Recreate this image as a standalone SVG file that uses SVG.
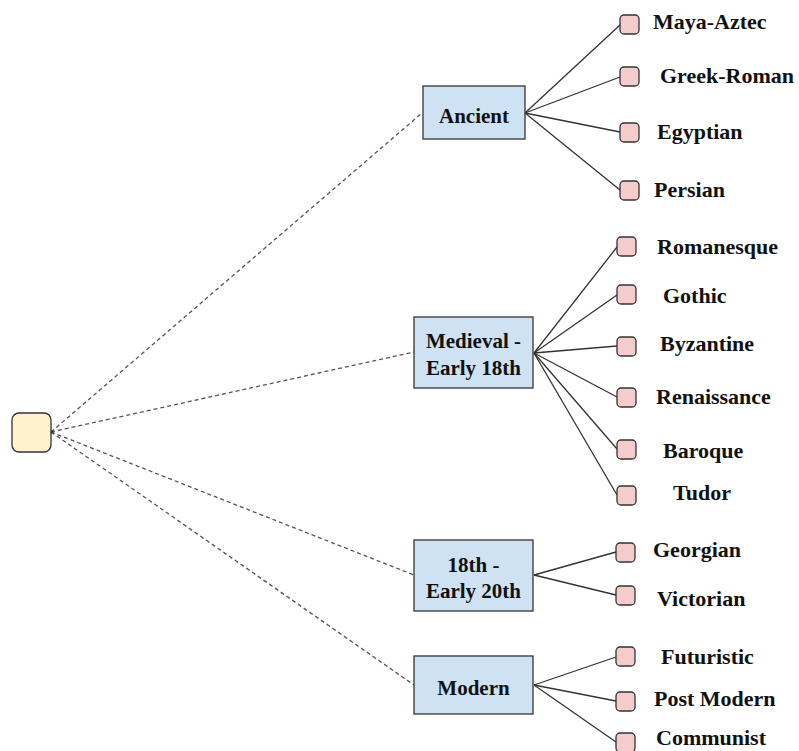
<svg xmlns="http://www.w3.org/2000/svg" width="799" height="751" viewBox="0 0 799 751">
<style>
.bg{fill:#ffffff}
.root{fill:#fff2cc;stroke:#333333;stroke-width:1.3}
.cat{fill:#cfe2f3;stroke:#333333;stroke-width:1.3}
.leaf{fill:#f4cccc;stroke:#333333;stroke-width:1.3}
.dash{fill:none;stroke:#555555;stroke-width:1.3;stroke-dasharray:4,3}
.solid{fill:none;stroke:#333333;stroke-width:1.3}
.t{font-family:"Liberation Serif","Times New Roman",serif;font-weight:bold;fill:#111111}
.ct{font-size:21px;text-anchor:middle}
.lt{font-size:22px}
</style>
<rect class="bg" x="0" y="0" width="799" height="751"/>
<g id="connectors">
<line class="dash" x1="51" y1="432" x2="422" y2="113"/>
<line class="dash" x1="51" y1="432" x2="414" y2="352"/>
<line class="dash" x1="51" y1="432" x2="414" y2="575"/>
<line class="dash" x1="51" y1="432" x2="414" y2="685"/>
<circle cx="51.5" cy="432" r="1.8" fill="#333333"/>
<line class="solid" x1="525" y1="113" x2="620" y2="25"/>
<line class="solid" x1="525" y1="113" x2="620" y2="77"/>
<line class="solid" x1="525" y1="113" x2="620" y2="132"/>
<line class="solid" x1="525" y1="113" x2="620" y2="190"/>
<line class="solid" x1="534" y1="353" x2="617" y2="247"/>
<line class="solid" x1="534" y1="353" x2="617" y2="295"/>
<line class="solid" x1="534" y1="353" x2="617" y2="346"/>
<line class="solid" x1="534" y1="353" x2="617" y2="397"/>
<line class="solid" x1="534" y1="353" x2="617" y2="449"/>
<line class="solid" x1="534" y1="353" x2="617" y2="495"/>
<line class="solid" x1="534" y1="575" x2="616" y2="552"/>
<line class="solid" x1="534" y1="575" x2="616" y2="595"/>
<line class="solid" x1="534" y1="685" x2="616" y2="657"/>
<line class="solid" x1="534" y1="685" x2="616" y2="701"/>
<line class="solid" x1="534" y1="685" x2="616" y2="742"/>
</g>
<g id="root"><rect class="root" x="12" y="413" width="39" height="39" rx="7"/></g>
<g id="ancient"><rect class="cat" x="423" y="86" width="102" height="53"/><text class="t ct" x="474" y="123">Ancient</text></g>
<g id="medieval"><rect class="cat" x="414" y="317" width="119" height="71"/><text class="t ct" x="473.5" y="348">Medieval -</text><text class="t ct" x="473.5" y="375">Early 18th</text></g>
<g id="c18th"><rect class="cat" x="414" y="540" width="119" height="71"/><text class="t ct" x="473.5" y="572">18th -</text><text class="t ct" x="473.5" y="598">Early 20th</text></g>
<g id="modern"><rect class="cat" x="414" y="656" width="119" height="58"/><text class="t ct" x="473.5" y="695">Modern</text></g>
<g id="maya"><rect class="leaf" x="620" y="15" width="19" height="19" rx="4"/><text class="t lt" x="653" y="29">Maya-Aztec</text></g>
<g id="greek"><rect class="leaf" x="620" y="67" width="19" height="19" rx="4"/><text class="t lt" x="660" y="83">Greek-Roman</text></g>
<g id="egyptian"><rect class="leaf" x="620" y="123" width="19" height="19" rx="4"/><text class="t lt" x="657" y="139">Egyptian</text></g>
<g id="persian"><rect class="leaf" x="620" y="181" width="19" height="19" rx="4"/><text class="t lt" x="654" y="197">Persian</text></g>
<g id="romanesque"><rect class="leaf" x="617" y="237" width="19" height="19" rx="4"/><text class="t lt" x="657" y="254">Romanesque</text></g>
<g id="gothic"><rect class="leaf" x="617" y="285" width="19" height="19" rx="4"/><text class="t lt" x="663" y="303">Gothic</text></g>
<g id="byzantine"><rect class="leaf" x="617" y="337" width="19" height="19" rx="4"/><text class="t lt" x="660" y="351">Byzantine</text></g>
<g id="renaissance"><rect class="leaf" x="617" y="388" width="19" height="19" rx="4"/><text class="t lt" x="656" y="404">Renaissance</text></g>
<g id="baroque"><rect class="leaf" x="617" y="440" width="19" height="19" rx="4"/><text class="t lt" x="663" y="458">Baroque</text></g>
<g id="tudor"><rect class="leaf" x="617" y="486" width="19" height="19" rx="4"/><text class="t lt" x="673" y="500">Tudor</text></g>
<g id="georgian"><rect class="leaf" x="616" y="543" width="19" height="19" rx="4"/><text class="t lt" x="653" y="557">Georgian</text></g>
<g id="victorian"><rect class="leaf" x="616" y="586" width="19" height="19" rx="4"/><text class="t lt" x="657" y="606">Victorian</text></g>
<g id="futuristic"><rect class="leaf" x="616" y="647" width="19" height="19" rx="4"/><text class="t lt" x="661" y="664">Futuristic</text></g>
<g id="postmodern"><rect class="leaf" x="616" y="692" width="19" height="19" rx="4"/><text class="t lt" x="654" y="706">Post Modern</text></g>
<g id="communist"><rect class="leaf" x="616" y="733" width="19" height="19" rx="4"/><text class="t lt" x="656" y="745">Communist</text></g>
</svg>
